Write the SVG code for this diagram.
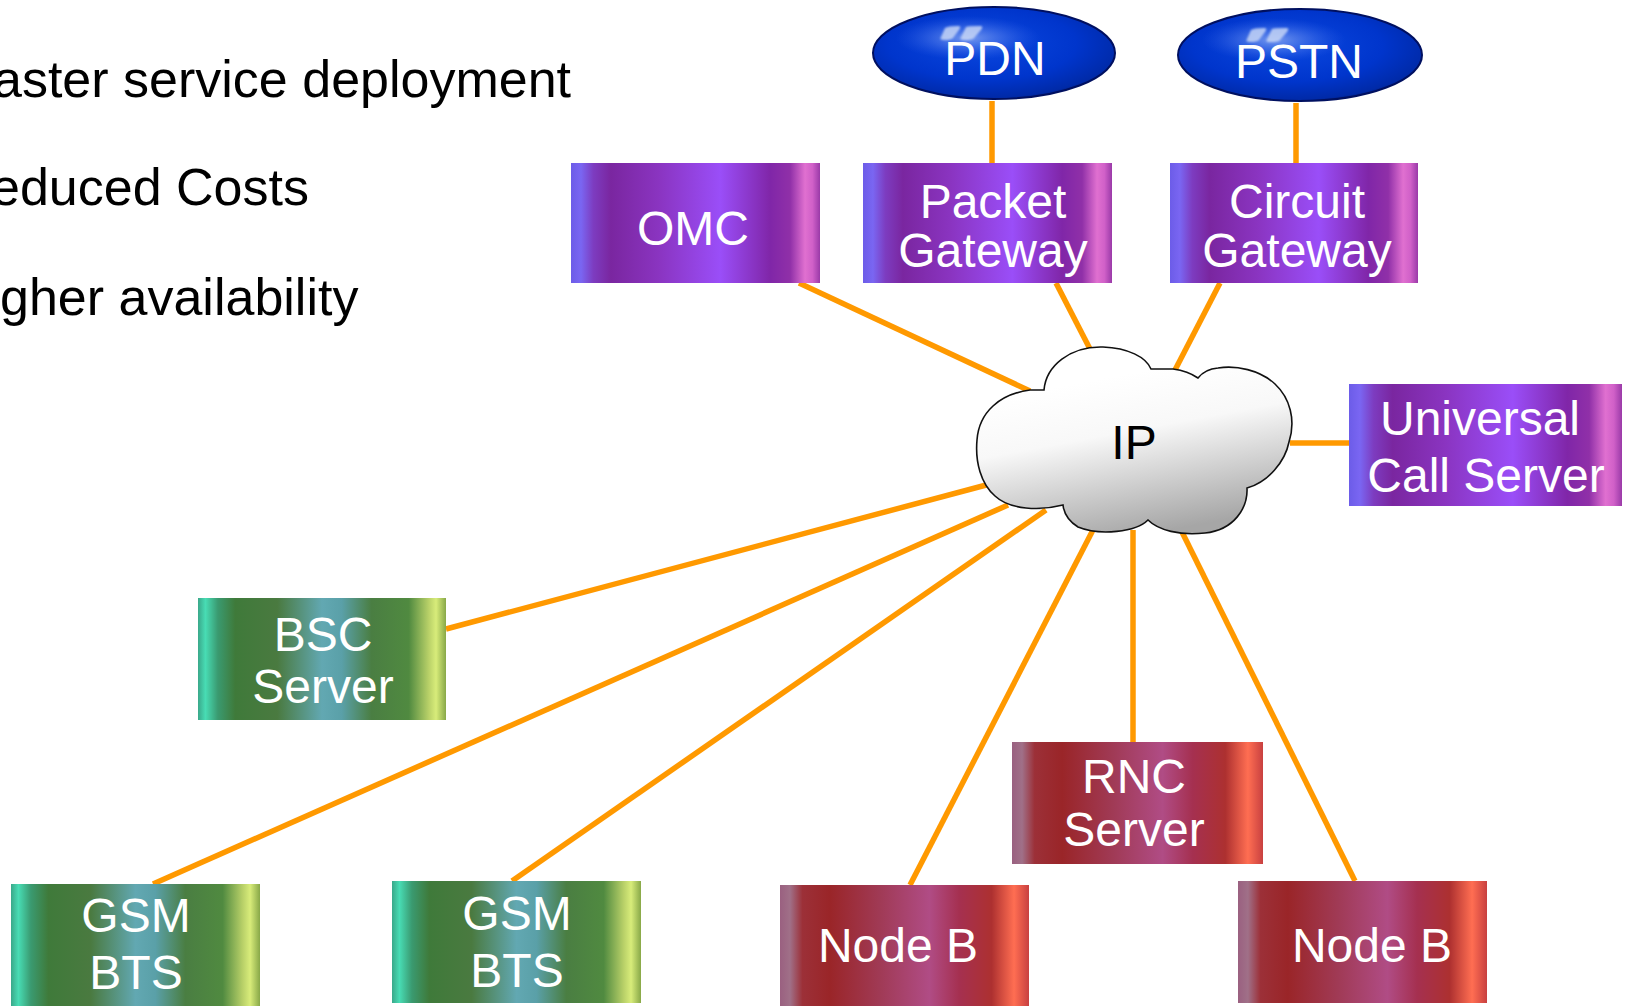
<svg xmlns="http://www.w3.org/2000/svg" width="1628" height="1006" viewBox="0 0 1628 1006">
  <style>
    .bullet { font-family: "Liberation Sans", Arial, sans-serif; font-size: 52px; fill: #000; }
    .label { font-family: "Liberation Sans", Arial, sans-serif; font-size: 48px; fill: #fff; text-anchor: middle; }
    .dark { fill: #000; }
    .link { stroke: #ff9900; stroke-width: 5.5; fill: none; }
    .box-purple { fill: url(#gPurple); }
    .box-green { fill: url(#gGreen); }
    .box-red { fill: url(#gRed); }
    .net { fill: url(#gBlue); stroke: #001060; stroke-width: 2; }
    .glow { fill: url(#gGlow); }
    .gloss { fill: #c4d4f6; opacity: 0.85; filter: url(#soft); }
  </style>
  <defs>
    <linearGradient id="gPurple" x1="0" y1="0" x2="1" y2="0">
      <stop offset="0" stop-color="#6c5ce8"/>
      <stop offset="0.04" stop-color="#7a66f2"/>
      <stop offset="0.09" stop-color="#7d3cc0"/>
      <stop offset="0.16" stop-color="#7a26a0"/>
      <stop offset="0.35" stop-color="#8a34c0"/>
      <stop offset="0.6" stop-color="#9a4ef8"/>
      <stop offset="0.8" stop-color="#8026a8"/>
      <stop offset="0.88" stop-color="#9030a8"/>
      <stop offset="0.94" stop-color="#e070d0"/>
      <stop offset="0.97" stop-color="#d060c8"/>
      <stop offset="1" stop-color="#9a3aa8"/>
    </linearGradient>
    <linearGradient id="gGreen" x1="0" y1="0" x2="1" y2="0">
      <stop offset="0" stop-color="#3aa88a"/>
      <stop offset="0.03" stop-color="#48dcb4"/>
      <stop offset="0.08" stop-color="#3a9a70"/>
      <stop offset="0.15" stop-color="#3f7a3a"/>
      <stop offset="0.32" stop-color="#4a7a40"/>
      <stop offset="0.5" stop-color="#62a8b2"/>
      <stop offset="0.58" stop-color="#5aa0a8"/>
      <stop offset="0.7" stop-color="#4a7e42"/>
      <stop offset="0.85" stop-color="#508a40"/>
      <stop offset="0.93" stop-color="#b8d068"/>
      <stop offset="0.96" stop-color="#d8ec7a"/>
      <stop offset="1" stop-color="#88a848"/>
    </linearGradient>
    <linearGradient id="gRed" x1="0" y1="0" x2="1" y2="0">
      <stop offset="0" stop-color="#9a6080"/>
      <stop offset="0.04" stop-color="#a07088"/>
      <stop offset="0.09" stop-color="#9c3038"/>
      <stop offset="0.2" stop-color="#9a2528"/>
      <stop offset="0.4" stop-color="#a03a55"/>
      <stop offset="0.6" stop-color="#b04c85"/>
      <stop offset="0.72" stop-color="#a53050"/>
      <stop offset="0.85" stop-color="#ad3030"/>
      <stop offset="0.94" stop-color="#ff6e52"/>
      <stop offset="1" stop-color="#c84040"/>
    </linearGradient>
    <radialGradient id="gBlue" cx="0.45" cy="0.4" r="0.65">
      <stop offset="0" stop-color="#0a48e0"/>
      <stop offset="0.6" stop-color="#0035cc"/>
      <stop offset="0.9" stop-color="#002aa8"/>
      <stop offset="1" stop-color="#001a70"/>
    </radialGradient>
    <radialGradient id="gGlow" cx="0.5" cy="0.5" r="0.5">
      <stop offset="0" stop-color="#9ab4f4" stop-opacity="0.75"/>
      <stop offset="0.5" stop-color="#6a8ef0" stop-opacity="0.4"/>
      <stop offset="1" stop-color="#3a66e8" stop-opacity="0"/>
    </radialGradient>
    <linearGradient id="gCloud" x1="0.3" y1="0.2" x2="0.55" y2="1">
      <stop offset="0" stop-color="#ffffff"/>
      <stop offset="0.35" stop-color="#f8f8f8"/>
      <stop offset="1" stop-color="#a6a6a6"/>
    </linearGradient>
    <filter id="soft" x="-20%" y="-20%" width="140%" height="140%">
      <feGaussianBlur stdDeviation="0.8"/>
    </filter>
  </defs>

  <!-- slide bullet text -->
  <g id="bullets">
    <text class="bullet" x="-7" y="97">aster service deployment</text>
    <text class="bullet" x="-9" y="205">educed Costs</text>
    <text class="bullet" x="0" y="315">gher availability</text>
  </g>

  <!-- links between the IP core and the attached elements -->
  <g id="connectors">
    <line class="link" x1="992" y1="101" x2="992" y2="163"/>
    <line class="link" x1="1296" y1="103" x2="1296" y2="175"/>
    <line class="link" x1="799" y1="283" x2="1030" y2="391"/>
    <line class="link" x1="1056" y1="283" x2="1090" y2="349"/>
    <line class="link" x1="1220" y1="283" x2="1175" y2="370"/>
    <line class="link" x1="1290" y1="443" x2="1349" y2="443"/>
    <line class="link" x1="446" y1="629" x2="990" y2="484"/>
    <line class="link" x1="153" y1="884" x2="1008" y2="505"/>
    <line class="link" x1="512" y1="881" x2="1046" y2="510"/>
    <line class="link" x1="910" y1="885" x2="1094" y2="528"/>
    <line class="link" x1="1133" y1="742" x2="1133" y2="530"/>
    <line class="link" x1="1355" y1="881" x2="1182" y2="532"/>
  </g>

  <!-- external networks -->
  <g id="pdn">
    <ellipse class="net" cx="994" cy="53" rx="121" ry="46"/>
    <ellipse class="glow" cx="968" cy="38" rx="72" ry="22"/>
    <path class="gloss" d="M945,28 Q948,26 958,26 Q962,26 959,30 L953,38 Q951,40 944,40 Q939,40 941,37 Z"/>
    <path class="gloss" d="M966,27 Q969,26 980,26 Q984,26 981,30 L974,38 Q972,40 964,40 Q959,40 961,37 Z"/>
    <text class="label" x="995" y="75">PDN</text>
  </g>
  <g id="pstn">
    <ellipse class="net" cx="1300" cy="55" rx="122" ry="46"/>
    <ellipse class="glow" cx="1274" cy="40" rx="72" ry="22"/>
    <path class="gloss" d="M1251,30 Q1254,28 1264,28 Q1268,28 1265,32 L1259,40 Q1257,42 1250,42 Q1245,42 1247,39 Z"/>
    <path class="gloss" d="M1272,29 Q1275,28 1286,28 Q1290,28 1287,32 L1280,40 Q1278,42 1270,42 Q1265,42 1267,39 Z"/>
    <text class="label" x="1299" y="78">PSTN</text>
  </g>

  <!-- core elements -->
  <g id="omc">
    <rect class="box-purple" x="571" y="163" width="249" height="120"/>
    <text class="label" x="693" y="245">OMC</text>
  </g>
  <g id="packet-gateway">
    <rect class="box-purple" x="863" y="163" width="249" height="120"/>
    <text class="label" x="993" y="218">Packet</text>
    <text class="label" x="993" y="267">Gateway</text>
  </g>
  <g id="circuit-gateway">
    <rect class="box-purple" x="1170" y="163" width="248" height="120"/>
    <text class="label" x="1297" y="218">Circuit</text>
    <text class="label" x="1297" y="267">Gateway</text>
  </g>
  <g id="universal-call-server">
    <rect class="box-purple" x="1349" y="384" width="273" height="122"/>
    <text class="label" x="1480" y="435">Universal</text>
    <text class="label" x="1486" y="492">Call Server</text>
  </g>

  <!-- IP backbone cloud -->
  <g id="ip-cloud">
    <path fill="url(#gCloud)" stroke="#111" stroke-width="1.6" d="M1030,390 L1044,390 C1046,366 1070,346 1103,347 C1128,348 1146,357 1151,369 L1173,369 Q1188,371 1198,378 Q1205,369 1218,368 C1236,365 1260,370 1275,384 C1290,398 1296,420 1289,442 C1285,462 1268,482 1247,488 C1248,508 1234,530 1205,533 C1180,536 1158,530 1148,520 C1136,532 1100,536 1078,527 C1070,522 1064,514 1063,505 C1040,511 1010,510 995,496 C981,484 975,462 977,440 C979,412 1000,394 1030,390 Z"/>
    <text class="label dark" x="1134" y="459">IP</text>
  </g>

  <!-- GSM access -->
  <g id="bsc-server">
    <rect class="box-green" x="198" y="598" width="248" height="122"/>
    <text class="label" x="323" y="651">BSC</text>
    <text class="label" x="323" y="703">Server</text>
  </g>
  <g id="gsm-bts-1">
    <rect class="box-green" x="11" y="884" width="249" height="122"/>
    <text class="label" x="136" y="932">GSM</text>
    <text class="label" x="136" y="989">BTS</text>
  </g>
  <g id="gsm-bts-2">
    <rect class="box-green" x="392" y="881" width="249" height="122"/>
    <text class="label" x="517" y="930">GSM</text>
    <text class="label" x="517" y="987">BTS</text>
  </g>

  <!-- UMTS access -->
  <g id="rnc-server">
    <rect class="box-red" x="1012" y="742" width="251" height="122"/>
    <text class="label" x="1134" y="793">RNC</text>
    <text class="label" x="1134" y="846">Server</text>
  </g>
  <g id="node-b-1">
    <rect class="box-red" x="780" y="885" width="249" height="121"/>
    <text class="label" x="898" y="962">Node B</text>
  </g>
  <g id="node-b-2">
    <rect class="box-red" x="1238" y="881" width="249" height="122"/>
    <text class="label" x="1372" y="962">Node B</text>
  </g>
</svg>
